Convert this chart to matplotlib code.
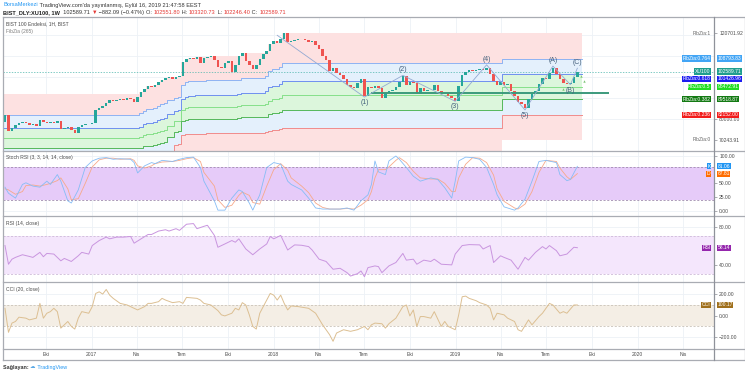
import datetime as dt
import numpy as np
import matplotlib
matplotlib.use('Agg')
import matplotlib.pyplot as plt
from matplotlib.lines import Line2D
from matplotlib.transforms import blended_transform_factory

plt.rcParams['font.family'] = ['Liberation Sans', 'DejaVu Sans']

W, H = 745, 375

# ---- weekly closes of BIST 100 (thousands) ----
close_k = [82.0, 74.5, 75.8, 77.2, 78.3, 78.8, 78.0, 77.3, 77.8, 77.0,
           79.8, 78.5, 78.0, 78.8, 78.2, 79.0, 75.2, 76.0, 76.2, 75.0,
           73.6, 76.5, 77.5, 77.8, 77.6, 78.2, 84.5, 85.5, 86.5, 87.6,
           89.0, 88.5, 89.3, 89.6, 89.0, 90.0, 89.4, 88.0, 90.5, 92.8,
           94.5, 95.6, 95.2, 96.3, 97.5, 98.8, 99.5, 99.8, 99.3, 100.2,
           100.6, 107.0, 108.5, 109.2, 108.8, 109.5, 106.8, 108.9, 109.7, 110.0,
           108.2, 105.0, 104.3, 106.5, 107.8, 102.5, 105.5, 110.2, 111.3, 107.5,
           105.8, 103.8, 105.5, 108.5, 111.0, 112.5, 115.5, 117.0, 116.2, 118.0,
           120.70192, 116.8, 117.2, 117.8, 118.2, 117.9, 117.4, 116.6, 117.0, 115.3,
           113.5, 109.8, 108.0, 102.8, 104.2, 102.0, 100.8, 99.3, 96.0, 95.2,
           95.0, 97.3, 99.2, 91.0, 95.5, 95.0, 95.6, 94.8, 90.0, 92.5,
           93.2, 94.0, 95.2, 97.8, 100.3, 96.2, 97.5, 97.0, 92.0, 94.6,
           93.6, 94.0, 93.8, 96.0, 93.5, 91.8, 92.4, 91.0, 90.0, 88.8,
           95.8, 101.0, 102.5, 103.2, 102.8, 103.5, 104.0, 103.2, 104.5, 101.5,
           98.0, 96.0, 97.5, 96.0, 96.5, 93.5, 91.0, 88.0, 87.0, 85.5,
           89.5, 92.0, 93.5, 96.5, 99.5, 99.0, 101.8, 104.3, 101.5, 99.2,
           97.0, 96.5, 97.2, 99.8, 102.58971]
first_open_k = 78.7

# FibZia(265): highest / lowest of the 265-week window
prior_high_k = 92.0
low_steps = [(0, 50.2), (47, 54.0), (49, 58.0), (51, 62.0), (143, 70.24391)]
fib_ratios = [0.764, 0.618, 0.5, 0.382, 0.236]
fib_colors = ['#8fb3f2', '#6f8ff0', '#86e08a', '#55b85a', '#f08c8c']
fib_badges = [('FibZia:0.764', '108793.83', '#42a5f5'),
              ('FibZia:0.618', '101426.96', '#1c1cf0'),
              ('FibZia:0.5', '95472.91', '#22dd22'),
              ('FibZia:0.382', '89518.87', '#137a13'),
              ('FibZia:0.236', '82152.00', '#f21c1c')]
# where the scale shows each badge (0.618 is pushed down by the XU100 badge)
fib_badge_at = [108793.83, 99080.0, 95472.91, 89518.87, 82152.00]

# Elliott wave count
wave_idx = [78, 103, 114, 129, 138, 149, 157, 162, 164]
wave_val_k = [119.8, 90.5, 100.8, 88.5, 105.8, 84.4, 105.2, 96.4, 104.2]
wave_lbl = ['', '(1)', '(2)', '(3)', '(4)', '(5)', '(A)', '(B)', '(C)']
wave_up = [True, False, True, False, True, False, True, False, True]
support_k = 92.4
support_span = (105, 173)
tri_idx = [160, 165, 165.8]
tri_val_k = [94.3, 100.3, 98.2]

# Stoch RSI (3, 3, 14, 14)
st_idx = [0, 1, 3, 5, 6, 8, 10, 12, 13, 15, 16, 18, 19, 21, 23, 25, 27, 29, 31, 33,
          36, 37, 38, 40, 42, 43, 45, 48, 50, 52, 54, 56, 57, 60, 61, 63, 65, 67, 68, 70,
          71, 73, 75, 77, 79, 81, 82, 85, 87, 89, 91, 93, 96, 98, 100, 102, 104, 105, 106, 107,
          109, 110, 112, 113, 115, 117, 119, 122, 124, 126, 128, 129, 130, 132, 134, 136, 138, 140, 141, 143,
          146, 147, 149, 151, 153, 155, 158, 159, 161, 162, 164]
st_k = [43, 32, 23, 48, 51, 45, 43, 54, 48, 66, 54, 18, 14, 38, 79, 91, 96, 97, 94, 95,
        94, 88, 69, 82, 88, 86, 92, 90, 94, 97, 98, 79, 54, 18, 1, 1, 23, 38, 35, 14,
        1, 29, 79, 88, 85, 54, 48, 38, 23, 5, 3, 3, 3, 5, 1, 18, 29, 48, 91, 71,
        66, 91, 100, 94, 79, 63, 54, 60, 57, 42, 23, 54, 91, 98, 97, 94, 79, 48, 29, 7,
        1, 5, 21, 54, 90, 92, 88, 66, 55, 57, 81.06]
st_d = [40, 38, 30, 35, 46, 47, 45, 48, 50, 55, 60, 40, 20, 22, 50, 80, 93, 96, 96, 94,
        95, 92, 82, 78, 82, 86, 89, 90, 92, 95, 97, 90, 70, 45, 20, 6, 10, 28, 34, 28,
        15, 12, 45, 75, 86, 74, 60, 45, 33, 14, 6, 3, 3, 4, 3, 10, 20, 35, 60, 75,
        75, 80, 92, 97, 88, 72, 60, 58, 58, 50, 35, 35, 60, 85, 97, 96, 88, 65, 40, 17,
        5, 3, 12, 35, 70, 92, 90, 78, 62, 57, 67.81]

# RSI (14)
rsi_idx = [0, 1, 2, 3, 5, 7, 8, 10, 11, 12, 14, 16, 17, 19, 21, 22, 24, 25, 27, 29,
           30, 32, 34, 36, 37, 39, 41, 42, 44, 46, 47, 49, 50, 52, 54, 55, 57, 58, 60, 61,
           63, 65, 66, 67, 69, 71, 73, 75, 76, 77, 79, 81, 83, 85, 87, 88, 90, 92, 94, 96,
           98, 99, 101, 102, 103, 104, 106, 107, 108, 110, 112, 114, 115, 117, 118, 120, 122, 123, 125, 128,
           129, 131, 133, 136, 137, 139, 140, 142, 143, 145, 147, 149, 150, 152, 154, 155, 156, 158, 159, 161,
           163, 164]
rsi_val = [60.4, 40.7, 46, 47.9, 50.7, 48.9, 47.9, 53.2, 48.6, 52.1, 51.4, 44.3, 46.8, 43.6, 49.6, 53.2, 51.4, 60.4, 65.7, 69.3,
           67.5, 69.3, 69.3, 70, 62.9, 67.5, 72.1, 72.1, 75.7, 77.1, 75.7, 78.2, 76.4, 82.9, 83.6, 78.2, 80.7, 81.8, 71.1, 58.6,
           62.1, 65.7, 63.9, 67.5, 56.8, 50.7, 56.8, 62.1, 70, 67.5, 71.1, 55.7, 61.1, 60.7, 59.3, 55.7, 46, 43.6, 35.4, 36.4,
           31.8, 28.2, 30.7, 33.6, 27.5, 37.1, 38.9, 38.2, 31.8, 38.9, 42.5, 52.1, 45, 46, 40.7, 45, 43.6, 46, 40.7, 40,
           51.4, 60.4, 61.4, 61.1, 56.8, 60.4, 42.5, 49.6, 47.9, 45, 35.4, 47.9, 45, 53.2, 59.3, 56.8, 60.4, 55, 49.6, 51.4,
           58.6, 58.14]

# CCI (20)
cci_idx = [0, 1, 2, 3, 4, 6, 7, 9, 10, 11, 12, 13, 14, 15, 16, 18, 19, 20, 21, 22,
           24, 25, 26, 27, 28, 29, 30, 31, 33, 35, 37, 38, 40, 41, 42, 44, 45, 46, 48, 50,
           51, 52, 55, 56, 57, 59, 61, 62, 63, 65, 66, 67, 68, 69, 70, 71, 72, 73, 74, 76,
           77, 78, 79, 80, 81, 82, 84, 87, 89, 91, 93, 94, 95, 97, 99, 101, 103, 104, 105, 106,
           108, 109, 110, 112, 114, 115, 116, 117, 118, 119, 120, 122, 123, 125, 126, 127, 129, 130, 131, 132,
           133, 135, 136, 138, 139, 140, 141, 143, 144, 146, 147, 148, 150, 151, 153, 154, 155, 156, 157, 159,
           160, 161, 163, 164]
cci_val = [69, -155, -69, -54, -14, -23, -39, -23, 115, -23, 23, 38, 69, 38, -116, -54, -100, -125, -23, 38,
           23, 85, 208, 223, 202, 245, 192, 162, 115, 100, 69, 54, 85, 115, 115, 131, 162, 146, 122, 131,
           115, 171, 162, 146, 115, 100, 48, 8, -2, 23, 69, 54, 122, 100, 8, -100, -125, 23, 85, 208,
           192, 146, 192, 115, 54, 91, 85, 69, 23, -85, -177, -239, -162, -131, -146, -131, -100, -131, -85, -69,
           -75, -116, -75, -23, 85, 100, -2, 54, -100, -8, -8, -23, 38, -100, -54, -100, -131, 8, 177, 183,
           162, 140, 122, 100, 69, -39, 23, 8, -23, -54, -131, -146, -39, -85, -8, 23, 69, 115, 100, 23,
           38, 23, 100, 100.17]

tick_dates = [dt.date(2016, 10, 1), dt.date(2017, 1, 1), dt.date(2017, 4, 1), dt.date(2017, 7, 1),
              dt.date(2017, 10, 1), dt.date(2018, 1, 1), dt.date(2018, 4, 1), dt.date(2018, 7, 1),
              dt.date(2018, 10, 1), dt.date(2019, 1, 1), dt.date(2019, 4, 1), dt.date(2019, 7, 1),
              dt.date(2019, 10, 1), dt.date(2020, 1, 1), dt.date(2020, 4, 1)]
tick_labels = ['Eki', '2017', 'Nis', 'Tem', 'Eki', '2018', 'Nis', 'Tem', 'Eki',
               '2019', 'Nis', 'Tem', 'Eki', '2020', 'Nis']
first_bar = dt.date(2016, 7, 11)

# ---- derived arrays ----
close = np.array(close_k) * 1000
N = len(close)
xi = np.arange(N)
opens = np.r_[first_open_k * 1000, close[:-1]]
fib_hi = np.maximum.accumulate(np.maximum(close, prior_high_k * 1000))
fib_lo = np.empty(N)
for start, v in low_steps:
    fib_lo[start:] = v * 1000
tick_pos = [(d - first_bar).days / 7 for d in tick_dates]

GREEN, RED = '#26a69a', '#ef5350'
FRAME = '#a9acb3'
GRID = '#edf1f6'
TXT = '#4c4c4c'
FS = 3.6

fig = plt.figure(figsize=(W / 100, H / 100), dpi=100)


def px_axes(x0, y0, x1, y1):
    ax = fig.add_axes([x0 / W, 1 - y1 / H, (x1 - x0) / W, (y1 - y0) / H])
    for s in ax.spines.values():
        s.set_visible(False)
    ax.set_xlim(-0.57, 203.15)
    ax.set_xticks(tick_pos)
    ax.tick_params(axis='x', length=0, labelbottom=False)
    ax.grid(axis='x', color=GRID, lw=0.6)
    ax.yaxis.tick_right()
    ax.tick_params(axis='y', length=2.5, width=0.5, pad=1.2, labelsize=FS,
                   colors=TXT, color='#8a8d94')
    ax.set_axisbelow(True)
    return ax


def fig_line(x0, y0, x1, y1, color=FRAME, lw=0.9):
    fig.add_artist(Line2D([x0 / W, x1 / W], [1 - y0 / H, 1 - y1 / H],
                          transform=fig.transFigure, color=color, lw=lw))


def badge(ax, y, name, value, color, tc='white'):
    tr = blended_transform_factory(fig.transFigure, ax.transData)
    box = dict(boxstyle='square,pad=0.12', fc=color, ec='none')
    if name:
        ax.text(710.5 / W, y, name, transform=tr, ha='right', va='center', fontsize=FS,
                color=tc, bbox=box, zorder=20, clip_on=False)
    ax.text(717.5 / W, y, value, transform=tr, ha='left', va='center', fontsize=FS,
            color=tc, bbox=box, zorder=20, clip_on=False)


def label(ax, y, s, color='#666666'):
    tr = blended_transform_factory(fig.transFigure, ax.transData)
    ax.text(710.5 / W, y, s, transform=tr, ha='right', va='center', fontsize=FS,
            color=color, zorder=20)


# ---- main price panel ----
ax = px_axes(3, 17, 714, 150.7)
ax.set_ylim(65080, 128480)
for v in [80000, 90000, 100000, 110000, 120000]:
    ax.axhline(v, color=GRID, lw=0.6, zorder=0)

xb = np.r_[-0.6, xi[1:] - 0.5, 165.3]


def ext(a):
    return np.r_[a, a[-1]]


rng = fib_hi - fib_lo
lv = {r: fib_lo + r * rng for r in [1.0, 0.0] + fib_ratios}
ax.fill_between(xb, ext(lv[1.0]), ext(lv[0.764]), step='post', color='#fde1e1', lw=0, zorder=1)
ax.fill_between(xb, ext(lv[0.764]), ext(lv[0.236]), step='post', color='#e4f0fc', lw=0, zorder=1)
ax.fill_between(xb, ext(lv[0.618]), ext(lv[0.382]), step='post', color='#dcf6dc', lw=0, zorder=1)
ax.fill_between(xb, ext(lv[0.236]), ext(lv[0.0]), step='post', color='#fde1e1', lw=0, zorder=1)
for r, c in zip(fib_ratios, fib_colors):
    ax.step(xb, ext(lv[r]), where='post', color=c, lw=0.7, zorder=2)

ax.axhline(close[-1], color='#4db6ac', lw=0.5, ls=(0, (2, 2)), zorder=3)

up = close >= opens
body_lo = np.minimum(opens, close)
body_h = np.maximum(np.abs(close - opens), 200)
ax.bar(xi, body_h, bottom=body_lo, width=0.72, color=np.where(up, GREEN, RED),
       linewidth=0, zorder=4)

ax.plot([support_span[0], support_span[1]], [support_k * 1000] * 2, color='#3c9a7c',
        lw=1.4, zorder=5, solid_capstyle='butt')
ax.plot(wave_idx, np.array(wave_val_k) * 1000, color='#93a9d2', lw=0.6, zorder=5)
for i, v, s, u in zip(wave_idx, wave_val_k, wave_lbl, wave_up):
    if s:
        ax.annotate(s, (i, v * 1000), xytext=(0, 1.5 if u else -1.5), textcoords='offset points',
                    ha='center', va='bottom' if u else 'top', fontsize=5, color='#46627e', zorder=6)
ax.scatter(tri_idx, np.array(tri_val_k) * 1000, marker='^', s=3, color='#7cc576', lw=0, zorder=6)

ax.set_yticks([120701.92, 80000, 70243.91])
ax.set_yticklabels(['120701.92', '80000.00', '70243.91'])
label(ax, 120701.92, 'FibZia:1')
label(ax, 70243.91, 'FibZia:0')
badge(ax, fib_badge_at[0], *fib_badges[0])
badge(ax, close[-1], 'XU100', f'{close[-1]:.2f}', '#1f9e8e')
for v, b in zip(fib_badge_at[1:], fib_badges[1:]):
    badge(ax, v, *b)
ax.text(6 / W, 1 - 24 / H, 'BIST 100 Endeksi, 1H, BIST', transform=fig.transFigure,
        fontsize=FS, color=TXT, va='center')
ax.text(6 / W, 1 - 31 / H, 'FibZia (265)', transform=fig.transFigure,
        fontsize=FS, color='#808080', va='center')

# ---- Stoch RSI ----
ax2 = px_axes(3, 150.7, 714, 216)
ax2.set_ylim(-9.7, 109.7)
for v in [0, 25, 50, 75, 100]:
    ax2.axhline(v, color=GRID, lw=0.6, zorder=0)
ax2.axhspan(20, 80, color='#e6cbf9', lw=0, zorder=1)
for v in [80, 20]:
    ax2.axhline(v, color='#a08cae', lw=0.6, ls=(0, (2.5, 2)), zorder=2)
ax2.plot(st_idx, st_d, color='#f7a98a', lw=0.6, zorder=3)
ax2.plot(st_idx, st_k, color='#86bdf5', lw=0.6, zorder=4)
ax2.set_yticks([100, 50, 25, 0])
ax2.set_yticklabels(['100.00', '50.00', '25.00', '0.00'])
badge(ax2, st_k[-1], 'K', f'{st_k[-1]:.2f}', '#2196f3')
badge(ax2, st_d[-1], 'D', f'{st_d[-1]:.2f}', '#ff6d00')
ax2.text(6 / W, 1 - 157.5 / H, 'Stoch RSI (3, 3, 14, 14, close)', transform=fig.transFigure,
         fontsize=FS, color=TXT, va='center')

# ---- RSI ----
ax3 = px_axes(3, 216, 714, 282.4)
ax3.set_ylim(21.5, 91.6)
for v in [40, 60, 80]:
    ax3.axhline(v, color=GRID, lw=0.6, zorder=0)
ax3.axhspan(30, 70, color='#f4e6fc', lw=0, zorder=1)
for v in [70, 30]:
    ax3.axhline(v, color='#cdb9d8', lw=0.6, ls=(0, (2.5, 2)), zorder=2)
ax3.plot(rsi_idx, rsi_val, color='#c995df', lw=0.7, zorder=3)
ax3.set_yticks([80, 40])
ax3.set_yticklabels(['80.00', '40.00'])
badge(ax3, rsi_val[-1], 'RSI', f'{rsi_val[-1]:.2f}', '#9526ad')
ax3.text(6 / W, 1 - 223.5 / H, 'RSI (14, close)', transform=fig.transFigure,
         fontsize=FS, color=TXT, va='center')

# ---- CCI ----
ax4 = px_axes(3, 282.4, 714, 349)
ax4.set_ylim(-311, 311)
for v in [-200, 0, 200]:
    ax4.axhline(v, color=GRID, lw=0.6, zorder=0)
ax4.axhspan(-100, 100, color='#f4eee5', lw=0, zorder=1)
for v in [100, -100]:
    ax4.axhline(v, color='#c9c2b8', lw=0.6, ls=(0, (2.5, 2)), zorder=2)
ax4.plot(cci_idx, cci_val, color='#dcbf92', lw=0.7, zorder=3)
ax4.set_yticks([200, 0, -200])
ax4.set_yticklabels(['200.00', '0.00', '\u2212200.00'])
badge(ax4, cci_val[-1], 'CCI', f'{cci_val[-1]:.2f}', '#a0701c')
ax4.text(6 / W, 1 - 290 / H, 'CCI (20, close)', transform=fig.transFigure,
         fontsize=FS, color=TXT, va='center')
ax4.set_xticklabels(tick_labels)
ax4.tick_params(axis='x', labelbottom=True, labelsize=FS, colors=TXT, pad=2.2)

# ---- frame ----
for y in [17, 150.7, 216, 282.4, 349, 360]:
    fig_line(3, y, 744.5, y)
fig_line(3, 17, 3, 360)
fig_line(714, 17, 714, 360, color='#8f929a')
fig_line(744.5, 17, 744.5, 360)

# ---- header / footer ----
renderer = fig.canvas.get_renderer()


def seq_text(x, y, parts, size=4.1):
    for s, color, weight in parts:
        t = fig.text(x / W, 1 - y / H, s, color=color, fontsize=size, weight=weight, va='center')
        x = t.get_window_extent(renderer=renderer).x1


seq_text(3, 5, [('BorsaMerkezi', '#2196f3', 'normal'),
                (" TradingView.com'da yayınlanmış, Eylül 16, 2019 21:47:58 EEST", '#333333', 'normal')])
seq_text(3, 12.5, [('BIST_DLY:XU100, 1W', '#222222', 'bold'),
                   ('  102589.71 ', '#333333', 'normal'),
                   ('\u25bc', '#e53935', 'normal'),
                   (' \u2212882.09 (\u22120.47%) ', '#333333', 'normal'),
                   ('O: ', '#333333', 'normal'), ('102551.80', '#e53935', 'normal'),
                   (' H: ', '#333333', 'normal'), ('103320.73', '#e53935', 'normal'),
                   (' L: ', '#333333', 'normal'), ('102246.40', '#e53935', 'normal'),
                   (' C: ', '#333333', 'normal'), ('102589.71', '#e53935', 'normal')])
seq_text(3, 367, [('Sağlayan: ', '#333333', 'bold'),
                  ('\u2601', '#5aa9e6', 'normal'),
                  (' TradingView', '#2196f3', 'normal')], size=3.9)

fig.savefig('out.png', dpi=100)
